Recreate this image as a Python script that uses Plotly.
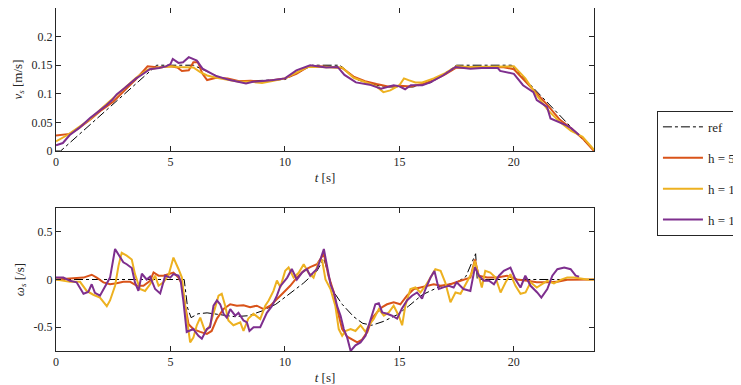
import plotly.graph_objects as go

# ---------------- data: top panel (v_s) ----------------
t_ref_v = [0, 0.2, 4.4, 6.0, 7.2, 8.0, 10.0, 11.2, 12.4, 13.2, 14.3, 15.6, 16.4, 17.5, 19.9, 23.5]
v_ref = [0, 0.0, 0.15, 0.15, 0.128, 0.122, 0.125, 0.15, 0.15, 0.124, 0.112, 0.112, 0.12, 0.15, 0.15, 0.0]

t_v_h5 = [0, 0.3, 0.6, 1.0, 1.5, 2.0, 2.5, 3.0, 3.5, 4.0, 4.5, 5.0, 5.3, 5.5, 5.8, 6.0, 6.2, 6.4, 6.6, 7.0,
          7.5, 8.0, 8.5, 9.0, 9.5, 10.0, 10.5, 11.0, 11.5, 12.0, 12.5, 13.0, 13.5, 14.0, 14.5, 15.0, 15.5,
          16.0, 16.5, 17.0, 17.5, 18.0, 18.5, 19.0, 19.5, 20.0, 20.5, 21.0, 21.5, 22.0, 22.5, 23.0, 23.5]
v_h5 = [0.027, 0.028, 0.030, 0.040, 0.055, 0.072, 0.086, 0.106, 0.126, 0.148, 0.146, 0.148, 0.146, 0.140,
        0.141, 0.155, 0.155, 0.135, 0.124, 0.128, 0.127, 0.122, 0.123, 0.121, 0.124, 0.127, 0.135, 0.147,
        0.148, 0.147, 0.145, 0.130, 0.122, 0.117, 0.113, 0.114, 0.113, 0.117, 0.124, 0.134, 0.146, 0.145,
        0.145, 0.146, 0.147, 0.143, 0.122, 0.100, 0.079, 0.055, 0.040, 0.022, 0.0]

t_v_h10 = [0, 0.5, 1.0, 1.5, 2.0, 2.5, 3.0, 3.5, 4.0, 4.5, 5.0, 5.3, 5.6, 6.0, 6.3, 6.6, 7.0, 7.5, 8.0, 8.5,
           9.0, 9.5, 10.0, 10.5, 11.0, 11.5, 12.0, 12.5, 13.0, 13.5, 14.0, 14.3, 14.6, 15.0, 15.2, 15.4,
           15.7, 16.0, 16.5, 17.0, 17.5, 18.0, 18.5, 19.0, 19.5, 20.0, 20.5, 21.0, 21.5, 22.0, 22.5, 23.0, 23.5]
v_h10 = [0.017, 0.028, 0.042, 0.056, 0.075, 0.092, 0.110, 0.128, 0.142, 0.146, 0.148, 0.147, 0.147, 0.146,
         0.138, 0.132, 0.128, 0.125, 0.121, 0.121, 0.119, 0.123, 0.127, 0.137, 0.147, 0.147, 0.146, 0.146,
         0.128, 0.121, 0.113, 0.103, 0.106, 0.115, 0.127, 0.124, 0.120, 0.120, 0.127, 0.136, 0.148, 0.147,
         0.147, 0.148, 0.148, 0.148, 0.127, 0.097, 0.071, 0.051, 0.035, 0.025, 0.002]

t_v_h15 = [0, 0.3, 0.6, 1.0, 1.5, 1.9, 2.2, 2.45, 2.65, 3.0, 3.25, 3.5, 3.7, 4.1, 4.5, 4.8, 5.0, 5.1, 5.35,
           5.55, 5.8, 6.0, 6.15, 6.4, 6.7, 7.0, 7.6, 8.0, 8.3, 8.6, 9.0, 9.5, 10.0, 10.5, 11.1, 11.8, 12.3,
           12.6, 13.1, 13.7, 14.2, 14.4, 14.75, 15.0, 15.25, 15.5, 16.0, 16.35, 16.9, 17.45, 18.1, 18.6,
           19.3, 19.4, 20.0, 20.4, 20.85, 21.0, 21.45, 21.6, 21.9, 22.3, 22.5, 22.85]
v_h15 = [0.010, 0.014, 0.028, 0.040, 0.058, 0.070, 0.080, 0.089, 0.099, 0.110, 0.119, 0.127, 0.132, 0.143,
         0.145, 0.148, 0.152, 0.161, 0.154, 0.155, 0.164, 0.160, 0.158, 0.144, 0.137, 0.131, 0.124, 0.121,
         0.118, 0.121, 0.122, 0.124, 0.127, 0.141, 0.150, 0.146, 0.147, 0.133, 0.120, 0.116, 0.109, 0.111,
         0.115, 0.113, 0.108, 0.115, 0.115, 0.120, 0.132, 0.147, 0.144, 0.145, 0.145, 0.140, 0.135, 0.115,
         0.103, 0.089, 0.077, 0.057, 0.052, 0.045, 0.040, 0.028]

# ---------------- data: bottom panel (omega_s) ----------------
t_ref_w = [0, 5.6, 5.75, 5.9, 6.2, 6.6, 7.2, 7.8, 8.4, 9.0, 9.6, 10.2, 10.8, 11.4, 11.7, 11.9, 12.1, 12.5,
           13.0, 13.4, 13.8, 14.3, 14.9, 15.4, 16.0, 16.8, 17.5, 17.9, 18.33, 18.4, 23.5]
w_ref = [0, 0, -0.3, -0.4, -0.36, -0.35, -0.37, -0.39, -0.38, -0.33, -0.26, -0.15, -0.04, 0.09, 0.22, 0.05,
         -0.12, -0.26, -0.39, -0.46, -0.48, -0.44, -0.37, -0.28, -0.16, -0.07, -0.03, 0.03, 0.27, 0.0, 0.0]

t_w_h5 = [0, 0.6, 1.2, 1.56, 1.78, 2.07, 2.36, 2.65, 2.94, 3.24, 3.53, 3.82, 4.11, 4.26, 4.48, 4.69, 4.91,
          5.13, 5.35, 5.5, 5.64, 5.79, 6.0, 6.3, 6.59, 6.8, 7.03, 7.32, 7.61, 7.9, 8.19, 8.48, 8.77, 9.07,
          9.36, 9.65, 9.94, 10.23, 10.52, 10.82, 11.1, 11.4, 11.7, 11.9, 12.14, 12.28, 12.5, 12.72, 12.87,
          13.16, 13.37, 13.6, 13.8, 14.02, 14.25, 14.46, 14.75, 15.04, 15.33, 15.63, 15.92, 16.2, 16.5,
          16.8, 17.23, 17.67, 18.1, 18.3, 18.46, 18.83, 19.27, 19.7, 20.14, 20.58, 21.0, 21.45, 21.9, 22.33,
          22.77, 23.2, 23.5]
w_h5 = [0, 0.01, 0.02, 0.05, 0.02, -0.03, -0.05, -0.04, -0.025, -0.025, -0.066, -0.066, -0.014, 0.073, 0.04,
        0.04, 0.056, 0.073, 0.02, -0.05, -0.275, -0.47, -0.52, -0.55, -0.57, -0.54, -0.41, -0.31, -0.26,
        -0.275, -0.27, -0.29, -0.275, -0.31, -0.275, -0.2, -0.136, -0.066, 0.02, 0.09, 0.13, 0.16, 0.27,
        0.04, -0.14, -0.31, -0.52, -0.6, -0.62, -0.66, -0.63, -0.55, -0.41, -0.345, -0.29, -0.26, -0.24,
        -0.26, -0.17, -0.1, -0.084, -0.066, -0.05, -0.066, -0.05, -0.014, 0.02, 0.21, 0.04, 0.02, 0.02,
        0.04, 0.0, -0.014, -0.03, -0.03, -0.025, -0.004, 0.0, 0.0, 0.0]

t_w_h10 = [0, 0.61, 1.05, 1.34, 1.63, 1.92, 2.22, 2.36, 2.58, 2.73, 2.87, 3.09, 3.31, 3.45, 3.67, 3.89, 4.11,
           4.33, 4.48, 4.69, 4.91, 5.13, 5.35, 5.5, 5.64, 5.79, 5.86, 6.0, 6.15, 6.3, 6.52, 6.73, 6.96, 7.1,
           7.24, 7.39, 7.53, 7.75, 8.05, 8.19, 8.4, 8.63, 8.92, 9.14, 9.29, 9.5, 9.65, 9.8, 10.01, 10.16,
           10.38, 10.6, 10.82, 11.03, 11.25, 11.47, 11.62, 11.77, 11.99, 12.2, 12.35, 12.5, 12.64, 12.87,
           13.08, 13.3, 13.52, 13.67, 13.88, 14.1, 14.32, 14.54, 14.75, 14.97, 15.12, 15.26, 15.48, 15.7,
           15.92, 16.14, 16.36, 16.57, 16.8, 17.0, 17.23, 17.45, 17.67, 17.96, 18.17, 18.3, 18.46, 18.6,
           18.75, 18.97, 19.2, 19.42, 19.64, 19.85, 20.07, 20.29, 20.51, 20.73, 21.0, 21.24, 21.45, 21.75,
           22.04, 22.33, 22.62, 22.92, 23.2, 23.5]
w_h10 = [0, -0.025, -0.025, -0.12, -0.16, -0.19, -0.28, -0.22, -0.066, 0.143, 0.28, 0.25, 0.21, 0.056, -0.1,
         -0.12, -0.05, 0.04, -0.066, -0.03, 0.04, 0.23, 0.11, 0.02, -0.28, -0.55, -0.66, -0.61, -0.48, -0.4,
         -0.55, -0.48, -0.275, -0.17, -0.15, -0.275, -0.43, -0.48, -0.45, -0.54, -0.41, -0.36, -0.415,
         -0.275, -0.22, -0.12, -0.01, -0.08, 0.09, 0.126, 0.02, 0.07, 0.16, 0.07, 0.02, 0.18, 0.21, 0.0,
         -0.1, -0.275, -0.52, -0.59, -0.54, -0.52, -0.54, -0.48, -0.55, -0.48, -0.415, -0.31, -0.38, -0.345,
         -0.275, -0.38, -0.48, -0.275, -0.1, -0.084, -0.136, -0.066, 0.02, 0.108, 0.09, -0.03, -0.24, -0.136,
         -0.15, -0.014, 0.073, 0.195, 0.04, -0.084, 0.09, 0.073, 0.02, -0.136, -0.03, 0.056, -0.066, -0.15,
         -0.136, -0.03, -0.084, -0.05, -0.014, -0.04, -0.004, 0.02, 0.02, 0.01, 0.0, 0.0]

t_w_h15 = [0, 0.32, 0.61, 0.9, 1.2, 1.41, 1.56, 1.7, 1.92, 2.14, 2.36, 2.58, 2.73, 2.94, 3.09, 3.31, 3.45,
           3.6, 3.75, 3.96, 4.11, 4.33, 4.55, 4.77, 4.99, 5.13, 5.35, 5.45, 5.57, 5.71, 5.8, 6.0, 6.22, 6.37,
           6.59, 6.73, 6.88, 7.03, 7.17, 7.32, 7.46, 7.61, 7.83, 7.97, 8.19, 8.34, 8.45, 8.63, 8.92, 9.21,
           9.43, 9.65, 9.8, 10.1, 10.3, 10.52, 10.74, 10.96, 11.1, 11.25, 11.4, 11.55, 11.7, 11.84, 11.99,
           12.14, 12.28, 12.43, 12.57, 12.72, 12.87, 13.08, 13.3, 13.52, 13.73, 13.95, 14.1, 14.25, 14.46,
           14.68, 14.9, 15.1, 15.33, 15.55, 15.77, 15.99, 16.14, 16.36, 16.53, 16.72, 16.95, 17.16, 17.37,
           17.5, 17.8, 18.1, 18.3, 18.47, 18.69, 18.9, 19.13, 19.35, 19.56, 19.85, 20.07, 20.29, 20.5, 20.73,
           21.02, 21.2, 21.46, 21.68, 21.9, 22.2, 22.48, 22.7, 22.85]
w_h15 = [0.02, 0.02, -0.014, -0.03, -0.15, -0.13, -0.05, -0.14, -0.17, -0.08, 0.02, 0.32, 0.26, 0.18, 0.16,
         0.12, -0.03, -0.12, 0.06, 0.0, 0.03, -0.1, -0.146, 0.04, 0.02, 0.056, 0.04, -0.02, -0.24, -0.55,
         -0.54, -0.52, -0.59, -0.62, -0.52, -0.5, -0.275, -0.22, -0.26, -0.36, -0.4, -0.31, -0.38, -0.35,
         -0.43, -0.45, -0.54, -0.5, -0.5, -0.35, -0.28, -0.17, -0.07, 0.02, 0.11, 0.0, 0.07, 0.11, 0.04,
         0.07, 0.11, 0.21, 0.32, 0.14, -0.05, -0.14, -0.28, -0.38, -0.52, -0.61, -0.75, -0.69, -0.66, -0.59,
         -0.42, -0.26, -0.25, -0.345, -0.36, -0.38, -0.41, -0.31, -0.22, -0.17, -0.136, -0.2, -0.1, 0.02,
         0.09, -0.1, -0.08, -0.066, -0.084, -0.03, -0.1, -0.12, 0.13, 0.04, -0.014, -0.01, -0.05, 0.04, 0.09,
         0.125, 0.0, -0.084, 0.04, -0.066, -0.136, -0.19, -0.1, 0.04, 0.108, 0.126, 0.108, 0.04, 0.03]

x_ticks = [0, 5, 10, 15, 20]
v_ticks = [0, 0.05, 0.1, 0.15, 0.2]
v_tick_text = ["0", "0.05", "0.1", "0.15", "0.2"]
w_ticks = [-0.5, 0, 0.5]
w_tick_text = ["-0.5", "0", "0.5"]
names = ["ref", "h = 5", "h = 10", "h = 15"]

# ---------------- styling ----------------
FONT = "Liberation Serif"
AX = "#262626"
colors = ["#000000", "#D95319", "#EDB120", "#7E2F8E"]

fig = go.Figure()

top = [(t_ref_v, v_ref), (t_v_h5, v_h5), (t_v_h10, v_h10), (t_v_h15, v_h15)]
bot = [(t_ref_w, w_ref), (t_w_h5, w_h5), (t_w_h10, w_h10), (t_w_h15, w_h15)]

for i, (tx, vy) in enumerate(top):
    line = dict(color=colors[i], width=1, dash="dashdot") if i == 0 else dict(color=colors[i], width=2)
    fig.add_trace(go.Scatter(x=tx, y=vy, mode="lines", line=line, name=names[i],
                             legendgroup=f"g{i}", showlegend=True, xaxis="x", yaxis="y"))
for i, (tx, wy) in enumerate(bot):
    line = dict(color=colors[i], width=1, dash="dashdot") if i == 0 else dict(color=colors[i], width=2)
    fig.add_trace(go.Scatter(x=tx, y=wy, mode="lines", line=line, name=names[i],
                             legendgroup=f"g{i}", showlegend=False, xaxis="x2", yaxis="y2"))

axis_common = dict(showline=True, mirror="allticks", ticks="inside", ticklen=5, tickwidth=1,
                   linecolor=AX, linewidth=1, tickcolor=AX, showgrid=False, zeroline=False,
                   tickfont=dict(family=FONT, size=12, color=AX))
title_font = dict(family=FONT, size=13, color=AX)

# The page body has an 8 px default margin, so margins are offset to keep the plot areas in place.
fig.update_layout(
    width=741, height=385,
    margin=dict(l=48, r=155, t=0, b=42, autoexpand=False),
    paper_bgcolor="white", plot_bgcolor="white",
    font=dict(family=FONT, color=AX),
    xaxis=dict(domain=[0, 1], anchor="y", range=[0, 23.5], tickvals=x_ticks,
               title=dict(text="<i>t</i> [s]", font=title_font, standoff=4), **axis_common),
    yaxis=dict(domain=[0.583, 1], anchor="x", range=[0, 0.25], tickvals=v_ticks, ticktext=v_tick_text,
               title=dict(text="<i>v<sub>s</sub></i> [m/s]", font=title_font, standoff=6), **axis_common),
    xaxis2=dict(domain=[0, 1], anchor="y2", range=[0, 23.5], tickvals=x_ticks,
                title=dict(text="<i>t</i> [s]", font=title_font, standoff=4), **axis_common),
    yaxis2=dict(domain=[0, 0.417], anchor="x2", range=[-0.75, 0.75], tickvals=w_ticks, ticktext=w_tick_text,
                title=dict(text="<i>ω<sub>s</sub></i> [/s]", font=title_font, standoff=6), **axis_common),
    legend=dict(x=1.117, y=0.70, xanchor="left", yanchor="top", bgcolor="white",
                bordercolor=AX, borderwidth=1, font=dict(family=FONT, size=13, color=AX),
                tracegroupgap=11, traceorder="grouped", itemwidth=40),
)

fig.write_html("out.html")
